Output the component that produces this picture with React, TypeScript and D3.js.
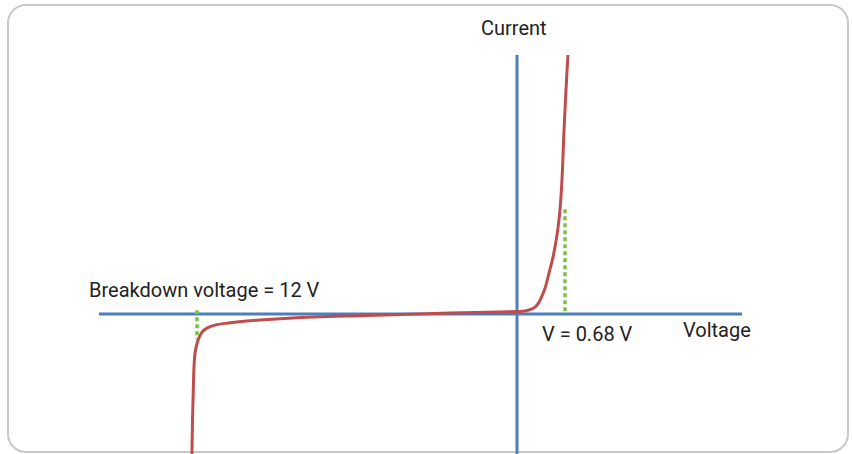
import React from "react";
import * as d3 from "d3";

// Voltage (V) breakpoints of the schematic (piecewise) axis and their pixel anchors
const voltageAnchors = [-15.7, -12, 0, 0.68, 3.19];
const currentDomain = [-54, 100];

// Diode I-V curve (voltage in V, current in arbitrary mA)
const curveVoltage = [
  -12.19, -12.15, -12.075, -11.96, -11.81, -11.63, -11.33, -10.88, -9.64, -8.4, -5.89, -2.5, -0.65,
  0, 0.113, 0.184, 0.255, 0.297, 0.34, 0.397, 0.453, 0.51, 0.567, 0.609, 0.637, 0.666, 0.694, 0.722,
];
const curveCurrent = [
  -54, -33.2, -15.1, -10.0, -6.95, -5.4, -4.25, -3.5, -2.3, -1.5, -0.6, 0.4, 0.8,
  1.0, 1.16, 1.7, 2.7, 3.9, 6.2, 10.0, 15.8, 22, 30.5, 40.2, 51.7, 71, 86.5, 100,
];

// Annotation markers
const markerVoltage = [-12, 0.68];
const markerCurrentTop = [1.5, 40.5];
const markerCurrentBottom = [-9.7, 0];

const labels = {
  yAxis: "Current",
  xAxis: "Voltage",
  breakdown: "Breakdown voltage = 12 V",
  forward: "V = 0.68 V",
};

export default function App() {
  const W = 852;
  const H = 454;
  const x = d3.scaleLinear().domain(voltageAnchors).range([99, 197, 517, 565, 742]);
  const y = d3.scaleLinear().domain(currentDomain).range([454, 55]);

  const pts: [number, number][] = curveVoltage.map((v, i) => [v, curveCurrent[i]]);
  const line = d3
    .line<[number, number]>()
    .x((d) => x(d[0]))
    .y((d) => y(d[1]))
    .curve(d3.curveCatmullRom.alpha(0.5));

  const blue = "#4a7ebf";
  const red = "#bf4d4d";
  const green = "#7dc142";
  const font = "Roboto, 'Liberation Sans', sans-serif";
  const textColor = "#222";

  return (
    <svg
      width={W}
      height={H}
      style={{ position: "absolute", left: 0, top: 0, display: "block", background: "#fff" }}
    >
      <rect x={8} y={5} width={840} height={447} rx={18} ry={18} fill="#fff" stroke="#c8c8c8" strokeWidth={2} />
      {/* axes */}
      <line x1={x(voltageAnchors[0])} x2={x(voltageAnchors[4])} y1={y(0)} y2={y(0)} stroke={blue} strokeWidth={3} />
      <line x1={x(0)} x2={x(0)} y1={y(currentDomain[1])} y2={y(currentDomain[0])} stroke={blue} strokeWidth={3} />
      {/* markers */}
      {markerVoltage.map((v, i) => (
        <line
          key={i}
          x1={x(v)}
          x2={x(v)}
          y1={y(markerCurrentTop[i])}
          y2={y(markerCurrentBottom[i])}
          stroke={green}
          strokeWidth={3.5}
          strokeDasharray="4,3"
        />
      ))}
      {/* curve */}
      <path d={line(pts) || ""} fill="none" stroke={red} strokeWidth={3} strokeLinejoin="round" />
      {/* labels */}
      <text x={481} y={35} fontFamily={font} fontSize={20} fill={textColor}>
        {labels.yAxis}
      </text>
      <text x={89} y={297} fontFamily={font} fontSize={20} fill={textColor}>
        {labels.breakdown}
      </text>
      <text x={542} y={341} fontFamily={font} fontSize={20} fill={textColor}>
        {labels.forward}
      </text>
      <text x={683} y={337} fontFamily={font} fontSize={20} fill={textColor}>
        {labels.xAxis}
      </text>
    </svg>
  );
}
